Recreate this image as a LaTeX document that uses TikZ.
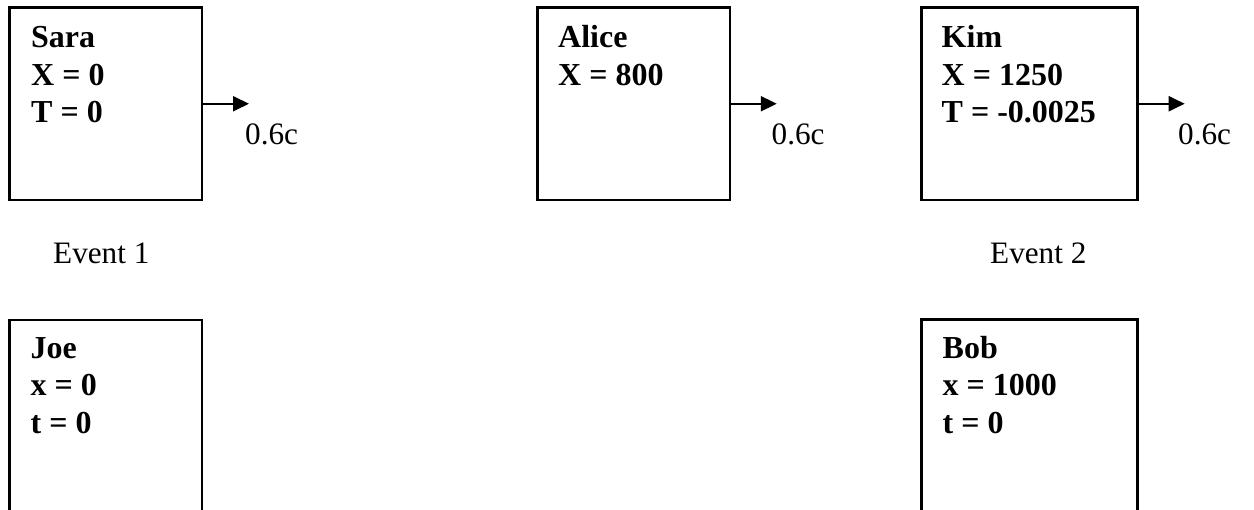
\documentclass[tikz,border=0pt]{standalone}
\usepackage{fontspec}
\setmainfont{Liberation Serif}
\usetikzlibrary{arrows.meta}
\begin{document}
\begin{tikzpicture}[x=1pt,y=-1pt,
  frame/.style={draw, line width=2.5pt, minimum height=192.5pt, inner sep=0pt, outer sep=0pt, anchor=north west},
  bline/.style={anchor=base west, inner sep=0pt, font=\fontsize{32}{37.5}\selectfont\bfseries},
  evt/.style={anchor=base west, inner sep=0pt, font=\fontsize{31.2}{37.5}\selectfont},
  speed/.style={anchor=base west, inner sep=0pt, font=\fontsize{31.2}{37.5}\selectfont},
  motion/.style={line width=2pt, -{Triangle[length=16pt,width=15pt]}}]
\path[use as bounding box, clip] (0,0) rectangle (1254,510);
\fill[white] (0,0) rectangle (1254,510);
% top row boxes
\node[frame, minimum width=192.5pt] (sara) at (9.5,7.5) {};
\node[frame, minimum width=192.5pt] (alice) at (537.3,7.5) {};
\node[frame, minimum width=216pt] (kim) at (921.7,7.5) {};
% bottom row boxes
\node[frame, minimum width=192.5pt, minimum height=210pt] (joe) at (9.5,320) {};
\node[frame, minimum width=216pt, minimum height=210pt] (bob) at (921.7,319.5) {};
% texts
\node[bline] (saraA) at (31,48) {Sara};
\node[bline] (saraB) at (31,85.5) {X = 0};
\node[bline] (saraC) at (31,123) {T = 0};
\node[bline] (aliceA) at (558,48) {Alice};
\node[bline] (aliceB) at (558,85.5) {X = 800};
\node[bline] (kimA) at (941.5,48) {Kim};
\node[bline] (kimB) at (941.5,85.5) {X = 1250};
\node[bline] (kimC) at (941.5,123) {T = -0.0025};
\node[bline] (joeA) at (30.5,358.5) {Joe};
\node[bline] (joeB) at (30.5,396) {x = 0};
\node[bline] (joeC) at (30.5,434) {t = 0};
\node[bline] (bobA) at (942.5,358.5) {Bob};
\node[bline] (bobB) at (942.5,396) {x = 1000};
\node[bline] (bobC) at (942.5,434) {t = 0};
\node[evt] (ev1) at (53,264) {Event 1};
\node[evt] (ev2) at (990,264) {Event 2};
% velocity arrows
\coordinate (saraV) at ([xshift=47pt]sara.east);
\coordinate (aliceV) at ([xshift=47pt]alice.east);
\coordinate (kimV) at ([xshift=47pt]kim.east);
\draw[motion] (sara.east) -- (saraV);
\draw[motion] (alice.east) -- (aliceV);
\draw[motion] (kim.east) -- (kimV);
\node[speed] (saraS) at (245,144.3) {0.6c};
\node[speed] (aliceS) at (771.5,144.3) {0.6c};
\node[speed] (kimS) at (1178,144.3) {0.6c};
\end{tikzpicture}
\end{document}
